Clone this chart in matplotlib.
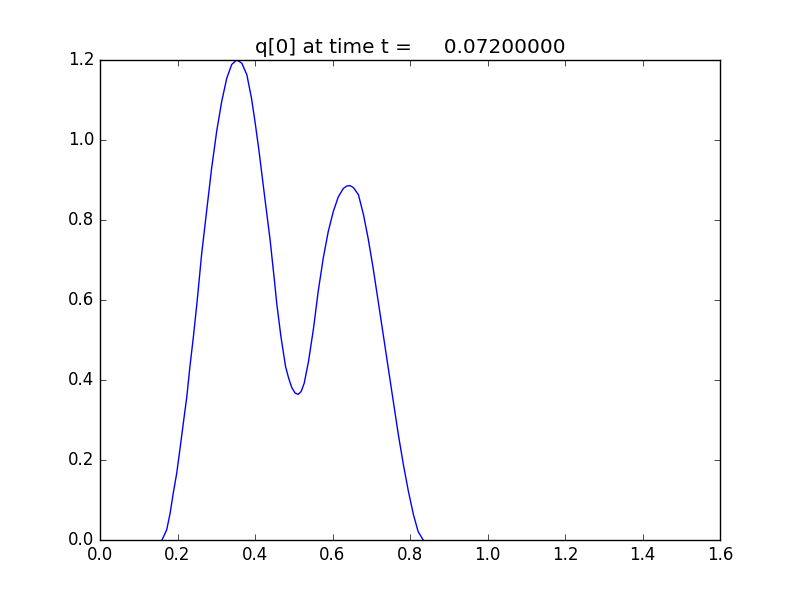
import matplotlib
matplotlib.use("Agg")
import matplotlib.pyplot as plt

# values
x = [0.160, 0.172, 0.181, 0.189, 0.198, 0.206, 0.215, 0.224, 0.232, 0.241,
     0.251, 0.262, 0.275, 0.288, 0.301, 0.314, 0.327, 0.340, 0.353, 0.366,
     0.379, 0.391, 0.400, 0.410, 0.426, 0.439, 0.450, 0.456, 0.467, 0.479,
     0.487, 0.495, 0.503, 0.511, 0.519, 0.527, 0.538, 0.551, 0.563, 0.576,
     0.589, 0.602, 0.615, 0.628, 0.637, 0.645, 0.654, 0.667, 0.680, 0.692,
     0.705, 0.718, 0.731, 0.744, 0.757, 0.770, 0.783, 0.796, 0.809, 0.821,
     0.834]
q = [0.000, 0.025, 0.067, 0.117, 0.167, 0.225, 0.292, 0.358, 0.433, 0.508,
     0.600, 0.712, 0.821, 0.929, 1.021, 1.096, 1.154, 1.189, 1.200, 1.192,
     1.163, 1.104, 1.046, 0.975, 0.850, 0.750, 0.650, 0.592, 0.508, 0.433,
     0.404, 0.381, 0.368, 0.364, 0.371, 0.392, 0.446, 0.529, 0.621, 0.704,
     0.771, 0.821, 0.858, 0.879, 0.885, 0.886, 0.881, 0.863, 0.813, 0.754,
     0.679, 0.596, 0.513, 0.429, 0.346, 0.263, 0.188, 0.121, 0.063, 0.021,
     0.000]
title = "q[0] at time t =     0.07200000"

plt.style.use("classic")
fig = plt.figure(figsize=(8, 6), dpi=100, facecolor="white")
ax = fig.add_subplot(111)
ax.plot(x, q, "b-", lw=1)
ax.set_xlim(0.0, 1.6)
ax.set_ylim(0.0, 1.2)
ax.set_title(title)
fig.savefig("out.png", dpi=100, facecolor="white")
